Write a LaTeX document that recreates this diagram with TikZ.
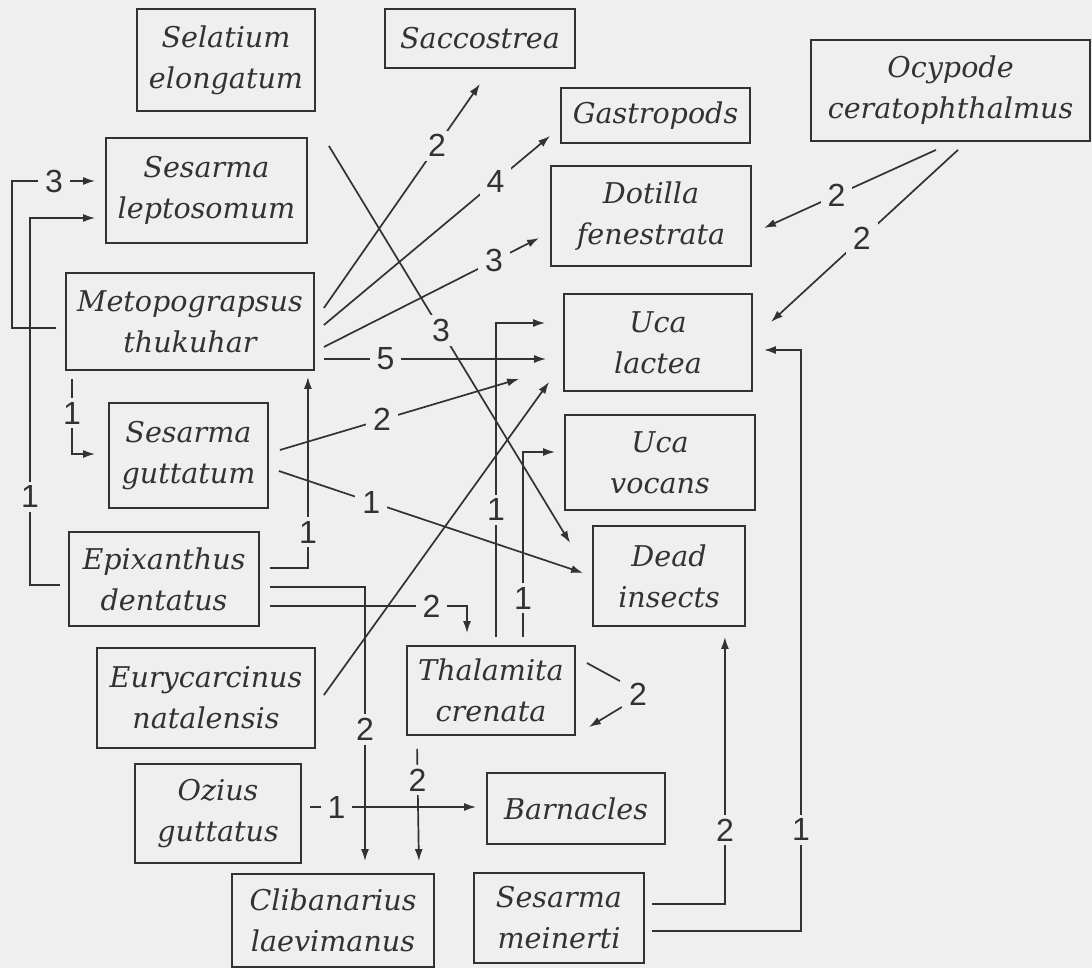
\documentclass[tikz,border=0pt]{standalone}
\usepackage{fontspec}
\setmainfont{DejaVu Serif}
\newfontfamily\labfont{Liberation Sans}
\usetikzlibrary{arrows.meta,calc}
\definecolor{bg}{RGB}{239,239,239}
\definecolor{ink}{RGB}{50,50,50}
\begin{document}
\begin{tikzpicture}[x=0.5pt,y=-0.5pt,
  box/.style={draw=ink,line width=0.9pt,align=center,inner sep=0pt,font=\fontsize{14.3}{20.5}\selectfont\itshape,text=ink},
  arr/.style={draw=ink,line width=0.85pt,-{Latex[length=6pt,width=4pt]}},
  ln/.style={draw=ink,line width=0.85pt},
  lab/.style={fill=bg,inner xsep=3.5pt,inner ysep=2pt,font=\labfont\fontsize{16}{16}\selectfont,text=ink}]
\fill[bg] (0,0) rectangle (1092,968);
\useasboundingbox (0,0) rectangle (1092,968);
% boxes
\node[box,minimum width=89pt,minimum height=51pt] (sel) at (226,60) {Selatium\\elongatum};
\node[box,minimum width=95pt,minimum height=29.5pt] (sac) at (480,38.5) {Saccostrea};
\node[box,minimum width=94.5pt,minimum height=27.5pt] (gas) at (655.5,115.5) {Gastropods};
\node[box,minimum width=139.5pt,minimum height=50.5pt] (ocy) at (950.5,90.5) {Ocypode\\ceratophthalmus};
\node[box,minimum width=100.5pt,minimum height=52.5pt] (slep) at (206.5,190.5) {Sesarma\\leptosomum};
\node[box,minimum width=100pt,minimum height=50pt] (dot) at (651,216) {Dotilla\\fenestrata};
\node[box,minimum width=124pt,minimum height=48.5pt] (met) at (190,321.5) {Metopograpsus\\thukuhar};
\node[box,minimum width=94pt,minimum height=48.5pt] (ulac) at (658,342.5) {Uca\\lactea};
\node[box,minimum width=79.5pt,minimum height=52.5pt] (sgut) at (188.5,455.5) {Sesarma\\guttatum};
\node[box,minimum width=95pt,minimum height=47.5pt] (uvoc) at (660,462.5) {Uca\\vocans};
\node[box,minimum width=95pt,minimum height=47pt] (epi) at (164,579) {Epixanthus\\dentatus};
\node[box,minimum width=76pt,minimum height=50pt] (dead) at (669,576) {Dead\\insects};
\node[box,minimum width=109pt,minimum height=50pt] (eury) at (206,698) {Eurycarcinus\\natalensis};
\node[box,minimum width=84pt,minimum height=44.5pt] (thal) at (491,690.5) {Thalamita\\crenata};
\node[box,minimum width=83pt,minimum height=49.5pt] (ozi) at (218,813.5) {Ozius\\guttatus};
\node[box,minimum width=89pt,minimum height=35.5pt] (barn) at (576,808.5) {Barnacles};
\node[box,minimum width=101pt,minimum height=46.5pt] (clib) at (333,920.5) {Clibanarius\\laevimanus};
\node[box,minimum width=85pt,minimum height=45pt] (mein) at (559,918) {Sesarma\\meinerti};
% connectors
\draw[arr] ([shift={(-9,6.5)}]met.west) -- ++(-44,0) |- node[lab,pos=0.753]{3} ([shift={(-10,-9.5)}]slep.west);
\draw[arr] ([shift={(-8,6)}]epi.west) -- ++(-30,0) |- node[lab,pos=0.12]{1} ([shift={(-10,27.5)}]slep.west);
\draw[arr] ([shift={(7,8)}]met.south west) |- node[lab,pos=0.23]{1} ([shift={(-13,-1.5)}]sgut.west);
\draw[arr] ([shift={(10,-11)}]epi.east) -| node[lab,pos=0.594]{1} ([shift={(-7,6)}]met.south east);
\draw[arr] ([shift={(10,8)}]epi.east) -| node[lab,pos=0.76]{2} ([shift={(32,-12)}]clib.north);
\draw[arr] ([shift={(10,27)}]epi.east) -| node[lab,pos=0.41]{2} ([shift={(-24,-12)}]thal.north);
\draw[arr] ([shift={(8,-3)}]eury.east) -- ([shift={(-14,-10)}]ulac.south west);
\draw[arr] ([shift={(5,-8)}]thal.north) |- node[lab,pos=0.203]{1} ([shift={(-18,-19.5)}]ulac.west);
\draw[arr] ([shift={(32,-8)}]thal.north) |- node[lab,pos=0.105]{1} ([shift={(-9,-10.5)}]uvoc.west);
\draw[ln] ([shift={(11,-27.5)}]thal.east) -- ++(33,18);
\draw[arr] ([shift={(46,16.5)}]thal.east) -- ([shift={(13,36.5)}]thal.east);
\node[lab] (selflab) at ([shift={(62,3.5)}]thal.east) {2};
\draw[arr] ([shift={(11,13)}]thal.south west) -- node[lab,pos=0.28]{2} ([shift={(-16,-12)}]clib.north east);
\draw[arr] ([shift={(8,-6.5)}]ozi.east) -- node[lab,pos=0.16]{1} ([shift={(-10,-1.5)}]barn.west);
\draw[arr] ([shift={(7,-14)}]mein.east) -| node[lab,pos=0.638]{2} ([shift={(-21,10)}]dead.south east);
\draw[arr] ([shift={(7,13)}]mein.east) -- ++(149,0) |- node[lab,pos=0.087]{1} ([shift={(11,7.5)}]ulac.east);
\draw[arr] ([shift={(-14.5,8)}]ocy.south) -- node[lab,pos=0.578]{2} ([shift={(12,12)}]dot.east);
\draw[arr] ([shift={(7.5,8)}]ocy.south) -- node[lab,pos=0.514]{2} ([shift={(18,-20.5)}]ulac.east);
\draw[arr] ([shift={(9,-13.5)}]met.east) -- node[lab,pos=0.724]{2} ([shift={(0,15)}]sac.south);
\draw[arr] ([shift={(9,3.5)}]met.east) -- node[lab,pos=0.759]{4} ([shift={(-10,-8)}]gas.south west);
\draw[arr] ([shift={(9,25.5)}]met.east) -- node[lab,pos=0.79]{3} ([shift={(-11,22)}]dot.west);
\draw[arr] ([shift={(9,37.5)}]met.east) -- node[lab,pos=0.277]{5} ([shift={(-17,16.5)}]ulac.west);
\draw[arr] ([shift={(13,34)}]sel.south east) -- node[lab,pos=0.465]{3} ([shift={(-22,-33)}]dead.west);
\draw[arr] ([shift={(11,-5.5)}]sgut.east) -- node[lab,pos=0.427]{2} ([shift={(-44,-13)}]ulac.south west);
\draw[arr] ([shift={(10,15.5)}]sgut.east) -- node[lab,pos=0.304]{1} ([shift={(-9,-3)}]dead.west);
\end{tikzpicture}
\end{document}
